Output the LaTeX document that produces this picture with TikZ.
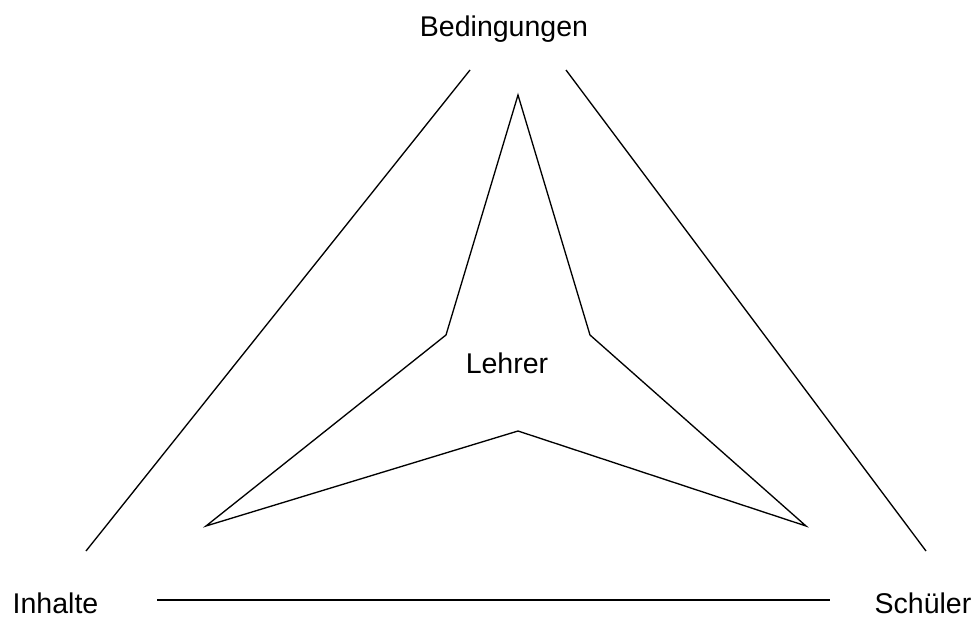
\documentclass[tikz,border=0pt]{standalone}
\usepackage{fontspec}
\setmainfont{Liberation Sans}
\usetikzlibrary{positioning}

\begin{document}
\begin{tikzpicture}[x=0.75pt,y=-0.75pt,line width=1pt,
  label/.style={inner sep=0pt,font=\fontsize{21.4}{25}\selectfont}]
\useasboundingbox (0,0) rectangle (976,617);

% corner labels
\node[label,anchor=base] (bed) at (504,37) {Bedingungen};
\node[label,anchor=base west] (inh) at (12,613) {Inhalte};
\node[label,anchor=base east] (sch) at (972,613) {Schüler};
\node[label,anchor=base] (leh) at (507,373) {Lehrer};

% outer triangle (open ends)
\coordinate (lt) at (470,70);
\coordinate (lb) at (86,551);
\coordinate (rt) at (566,70);
\coordinate (rb) at (926,551);
\coordinate (bl) at (157,600);
\coordinate (br) at (830,600);
\draw (lt) -- (lb);
\draw (rt) -- (rb);
\draw (bl) -- (br);

% inner star
\draw (518,95) -- (590,335) -- (806,526) -- (518,431)
  -- (206,526) -- (446,335) -- cycle;
\end{tikzpicture}
\end{document}
